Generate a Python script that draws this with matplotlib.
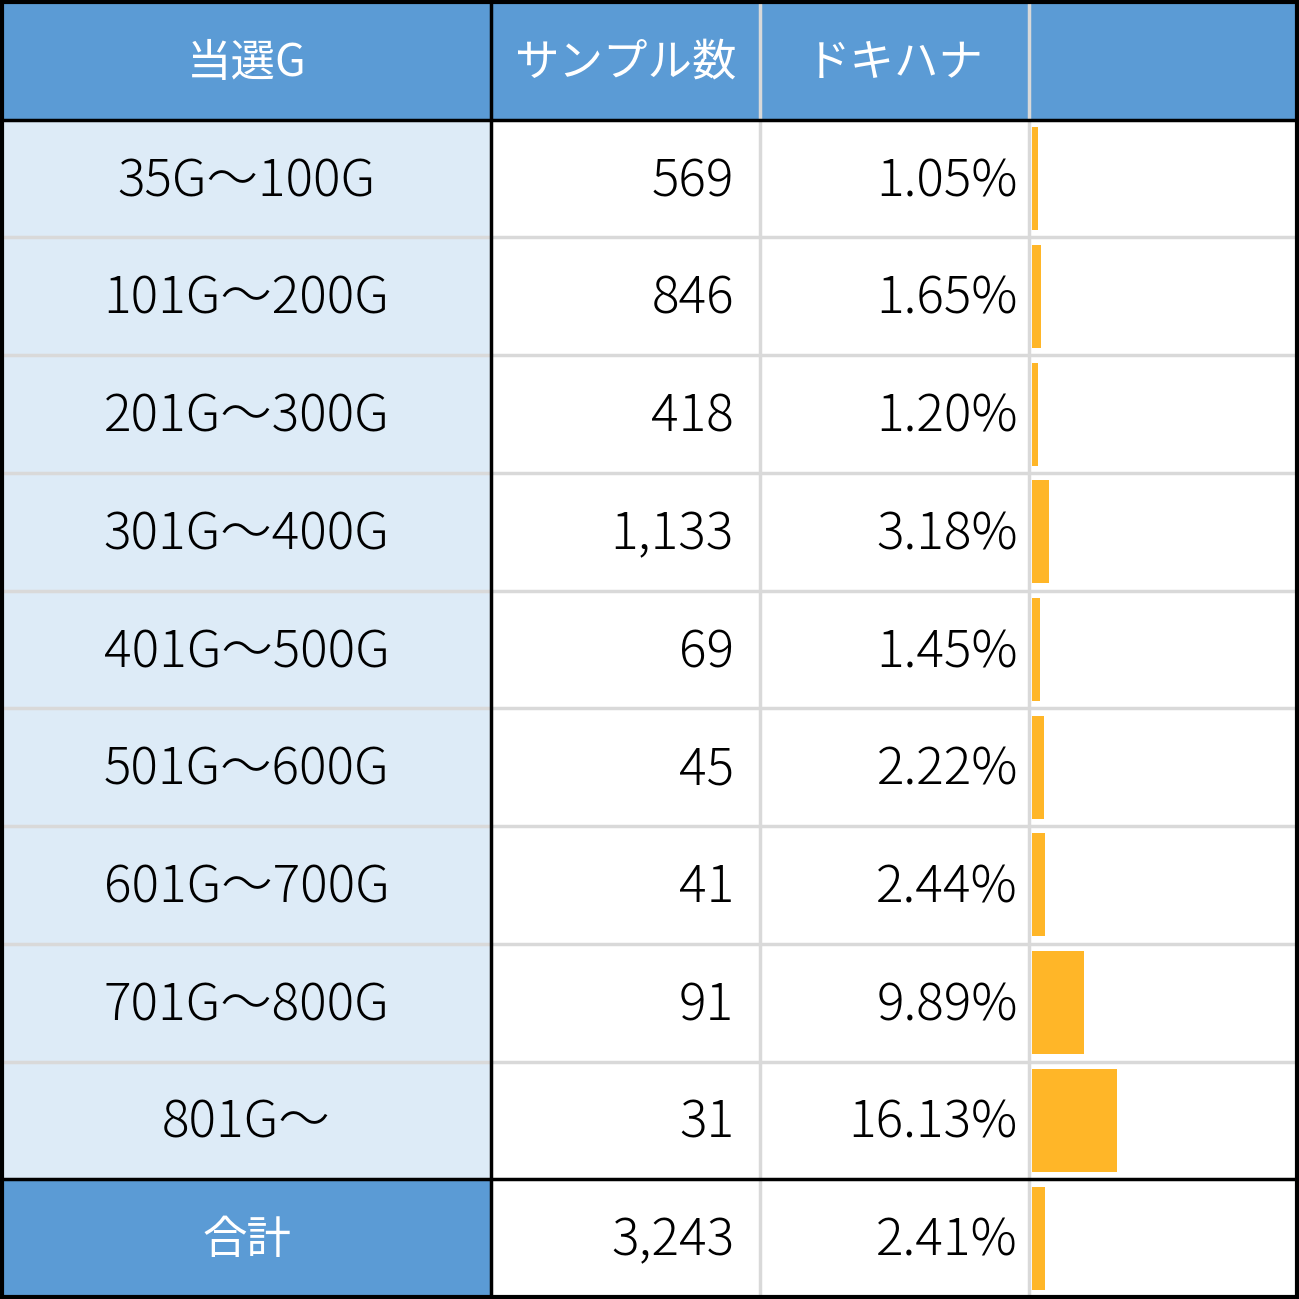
import matplotlib
matplotlib.use("Agg")
import matplotlib.pyplot as plt
from matplotlib.patches import Rectangle

plt.rcParams['font.family'] = ['Noto Sans CJK JP', 'DejaVu Sans']

# table data
headers = ['当選G', 'サンプル数', 'ドキハナ', '']
ranges = ['35G～100G', '101G～200G', '201G～300G', '301G～400G', '401G～500G',
          '501G～600G', '601G～700G', '701G～800G', '801G～']
samples = ['569', '846', '418', '1,133', '69', '45', '41', '91', '31']
rates = [1.05, 1.65, 1.20, 3.18, 1.45, 2.22, 2.44, 9.89, 16.13]
total_label = '合計'
total_sample = '3,243'
total_rate = 2.41

blue = '#5B9BD5'
light_blue = '#DDEBF7'
bar_color = '#FFB628'
grid_gray = '#D9D9D9'

W, H = 1299, 1299
col_x = [2, 491, 760, 1029, 1297]
n_rows = len(ranges) + 2
row_h = (1297 - 2) / n_rows
top = 2

fig = plt.figure(figsize=(W / 100, H / 100), dpi=100)
ax = fig.add_axes([0, 0, 1, 1])
ax.set_xlim(0, W)
ax.set_ylim(H, 0)
ax.axis('off')

def row_y(i):
    return top + i * row_h

# backgrounds
ax.add_patch(Rectangle((0, 0), W, H, color='white', zorder=0))
ax.add_patch(Rectangle((col_x[0], row_y(0)), col_x[-1] - col_x[0], row_h, color=blue, zorder=1))
ax.add_patch(Rectangle((col_x[0], row_y(1)), col_x[1] - col_x[0], row_h * len(ranges),
                       color=light_blue, zorder=1))
ax.add_patch(Rectangle((col_x[0], row_y(n_rows - 1)), col_x[1] - col_x[0], row_h, color=blue, zorder=1))

# gray grid lines
for i in range(2, n_rows - 1):
    ax.plot([col_x[0], col_x[-1]], [row_y(i), row_y(i)], color=grid_gray, lw=2.5, zorder=2)
for x in col_x[2:4]:
    ax.plot([x, x], [row_y(0), row_y(n_rows)], color=grid_gray, lw=2.5, zorder=2)

# black lines
ax.plot([col_x[1], col_x[1]], [row_y(0), row_y(n_rows)], color='black', lw=2.5, zorder=4)
ax.plot([col_x[0], col_x[-1]], [row_y(1), row_y(1)], color='black', lw=2.5, zorder=4)
ax.plot([col_x[0], col_x[-1]], [row_y(n_rows - 1), row_y(n_rows - 1)], color='black', lw=2.5, zorder=4)
ax.add_patch(Rectangle((col_x[0], row_y(0)), col_x[-1] - col_x[0], row_y(n_rows) - row_y(0),
                       fill=False, edgecolor='black', lw=3, zorder=5))

fs = 37
hfs = 32
dy = -3
# header text
for j, h in enumerate(headers):
    cx = (col_x[j] + col_x[j + 1]) / 2
    ax.text(cx, row_y(0) + row_h / 2 + dy, h, color='white', fontsize=hfs, fontweight='normal',
            ha='center', va='center_baseline', zorder=6)

# data rows
all_labels = ranges + [total_label]
all_samples = samples + [total_sample]
all_rates = rates + [total_rate]
for i in range(len(all_labels)):
    cy = row_y(i + 1) + row_h / 2 + dy
    last = i == len(all_labels) - 1
    ax.text((col_x[0] + col_x[1]) / 2, cy, all_labels[i], color='white' if last else 'black',
            fontsize=hfs if last else fs, fontweight='normal' if last else 'light',
            ha='center', va='center_baseline', zorder=6)
    ax.text(col_x[2] - 26, cy, all_samples[i], fontsize=fs, fontweight='light',
            ha='right', va='center_baseline', zorder=6)
    ax.text(col_x[3] - 11, cy, f'{all_rates[i]:.2f}%', fontsize=fs, fontweight='light',
            ha='right', va='center_baseline', zorder=6)

# data bars in the last column
bar_left = 1032
bax = ax.inset_axes([bar_left, row_y(0), col_x[-1] - bar_left, row_y(n_rows) - row_y(0)],
                    transform=ax.transData)
bax.set_xlim(0, (col_x[-1] - bar_left) / 5.27)
bax.set_ylim(n_rows, 0)
bax.axis('off')
bax.patch.set_alpha(0)
bax.barh([i + 1.5 for i in range(len(all_rates))], all_rates, height=103 / 117.7,
         color=bar_color, zorder=3)

fig.savefig('out.png', dpi=100)
